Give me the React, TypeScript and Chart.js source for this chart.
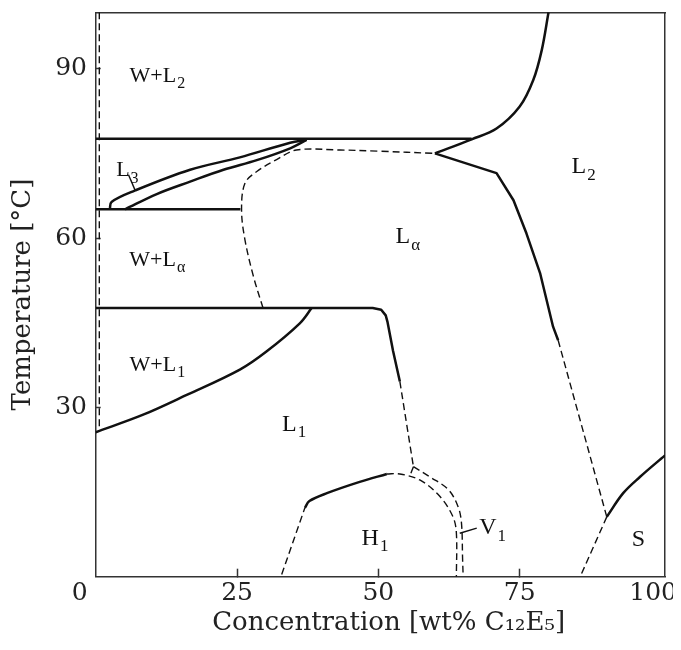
import React, { useEffect, useRef } from "react";
import { Chart, registerables } from "chart.js";

Chart.register(...registerables);

// ---- axis ranges and ticks ----
const xMin = 0;
const xMax = 100.7;
const yMin = 0;
const yMax = 100;
const xTickValues = [0, 25, 50, 75, 100];
const yTickValues = [30, 60, 90];
const xTitle = "\u00A0\u00A0Concentration [wt% C\u2081\u2082E\u2085]";
const yTitle = "Temperature [°C]";

// ---- phase boundaries: [concentration wt%, temperature °C] ----
const waterLimit = [[0.64, 100], [0.64, 25.7]];
const lineWL2 = [[0, 77.6], [66.5, 77.6]];
const lineWLa = [[0, 65.1], [25.6, 65.1]];
const lineWL1 = [[0, 47.6], [49.0, 47.6], [50.5, 47.3], [51.3, 46.3], [51.6, 45.2], [52.6, 40.0], [53.8, 34.6]];
const l1LaDashed = [[53.8, 34.6], [56.2, 19.5]];
const wL1Boundary = [[0, 25.6], [8.4, 28.7], [16.1, 32.2], [25.5, 36.7], [30.2, 39.9], [36.1, 44.9], [38.2, 47.6]];
const l3Upper = [[2.5, 65.1], [2.8, 66.4], [6.9, 68.4], [16.7, 72.1], [25.5, 74.3], [34.4, 76.9], [37.3, 77.4]];
const l3Lower = [[5.2, 65.1], [10.8, 67.8], [16.7, 70.0], [22.6, 72.1], [28.5, 73.8], [34.4, 75.9], [37.3, 77.4]];
const laLeftDashed = [[29.6, 47.6], [27.9, 53.2], [26.4, 59.7], [25.8, 65.0], [26.4, 69.7], [28.5, 71.8], [32.0, 73.9], [35.5, 75.6], [43.2, 75.6], [50.0, 75.4], [60.0, 75.0]];
const l2Upper = [[60.0, 75.0], [66.5, 77.5], [70.9, 79.4], [75.0, 83.3], [77.4, 88.0], [78.9, 93.3], [80.1, 100]];
const laL2Solid = [[60.0, 75.0], [70.9, 71.5], [73.9, 66.7], [76.2, 60.8], [78.6, 53.8], [80.9, 44.3], [81.8, 41.9]];
const laL2Dashed = [[81.8, 41.9], [90.4, 10.6]];
const sSolid = [[90.4, 10.6], [93.3, 14.8], [96.3, 17.7], [100.7, 21.5]];
const sDashed = [[90.4, 10.6], [85.7, 0]];
const h1LeftDashed = [[32.9, 0.4], [37.0, 12.2]];
const h1Solid = [[37.0, 12.2], [37.8, 13.4], [40.9, 14.8], [46.7, 16.8], [51.5, 18.2]];
const h1Dashed = [[51.5, 18.2], [53.8, 18.2], [57.4, 17.1], [60.9, 14.2], [63.2, 10.6], [63.8, 7.7], [63.8, 0]];
const v1Dashed = [[56.2, 19.5], [59.1, 17.7], [62.4, 15.4], [64.1, 12.4], [64.7, 9.5], [64.9, 3.0], [65.0, 0]];
const junctionDashed = [[56.2, 19.5], [55.5, 17.7]];
const v1Leader = [[64.4, 7.7], [67.4, 8.6]];
const l3Leader = [[5.8, 71.2], [7.0, 68.4]];

// ---- region labels: text, subscript, anchor (wt%, °C), kind ----
const labelTexts = ["W+L", "L", "W+L", "W+L", "L", "L", "L", "H", "V", "S"];
const labelSubs = ["2", "3", "\u03B1", "1", "\u03B1", "2", "1", "1", "1", ""];
const labelX = [10.9, 5.6, 10.9, 10.9, 55.2, 86.3, 35.1, 49.4, 70.2, 96.0];
const labelY = [89.0, 72.2, 56.3, 37.8, 60.5, 72.9, 27.3, 7.1, 8.9, 6.8];
const labelKind = ["mix", "mix", "mix", "mix", "phase", "phase", "phase", "phase", "phase", "phase"];

const toPts = (a: number[][]) => a.map(([x, y]) => ({ x, y }));

const labelPlugin = {
  id: "regionLabels",
  afterDatasetsDraw(chart: any) {
    const { ctx, scales } = chart;
    const xs = scales.x;
    const ys = scales.y;
    ctx.save();
    ctx.fillStyle = "#111";
    ctx.textAlign = "left";
    ctx.textBaseline = "alphabetic";
    for (let i = 0; i < labelTexts.length; i++) {
      const size = labelKind[i] === "mix" ? 22 : 24;
      const subSize = Math.round(size * 0.72);
      const mainFont = `${size}px "Liberation Serif", serif`;
      const subFont = `${subSize}px "Liberation Serif", serif`;
      ctx.font = mainFont;
      const mw = ctx.measureText(labelTexts[i]).width;
      ctx.font = subFont;
      const sw = labelSubs[i] ? ctx.measureText(labelSubs[i]).width + 1 : 0;
      const cx = xs.getPixelForValue(labelX[i]);
      const cy = ys.getPixelForValue(labelY[i]);
      const left = cx - (mw + sw) / 2;
      const base = cy + size * 0.33;
      ctx.font = mainFont;
      ctx.fillText(labelTexts[i], left, base);
      if (labelSubs[i]) {
        ctx.font = subFont;
        ctx.fillText(labelSubs[i], left + mw + 1, base + size * 0.28);
      }
    }
    ctx.restore();
  },
};

const zeroPad = (s: any) => {
  s.paddingLeft = 0;
  s.paddingRight = 0;
  s.paddingTop = 0;
  s.paddingBottom = 0;
};

export default function App() {
  const ref = useRef<HTMLCanvasElement | null>(null);

  useEffect(() => {
    if (!ref.current) return;
    const solid = { borderColor: "#111", borderWidth: 2.5, borderDash: [] as number[], tension: 0 };
    const curved = { ...solid, tension: 0.35 };
    const dashed = { borderColor: "#111", borderWidth: 1.4, borderDash: [7, 4], tension: 0 };
    const dashedCurved = { ...dashed, tension: 0.35 };
    const thin = { borderColor: "#111", borderWidth: 1.4, borderDash: [] as number[], tension: 0 };
    const curves: [number[][], any][] = [
      [waterLimit, dashed],
      [lineWL2, solid],
      [lineWLa, solid],
      [lineWL1, solid],
      [l1LaDashed, dashed],
      [wL1Boundary, curved],
      [l3Upper, curved],
      [l3Lower, curved],
      [laLeftDashed, dashedCurved],
      [l2Upper, curved],
      [laL2Solid, solid],
      [laL2Dashed, dashed],
      [sSolid, curved],
      [sDashed, dashed],
      [h1LeftDashed, dashed],
      [h1Solid, curved],
      [h1Dashed, dashedCurved],
      [v1Dashed, dashedCurved],
      [junctionDashed, dashed],
      [v1Leader, thin],
      [l3Leader, thin],
    ];
    const datasets = curves.map(([d, st]) => ({
      data: toPts(d),
      showLine: true,
      pointRadius: 0,
      fill: false,
      borderCapStyle: "butt",
      borderJoinStyle: "round",
      xAxisID: "x",
      yAxisID: "y",
      ...st,
    }));

    const axisFont = { family: '"DejaVu Serif", serif', size: 25 };
    const borderOpt = { display: true, color: "#333", width: 1.5 };

    const chart = new Chart(ref.current, {
      type: "scatter",
      data: { datasets },
      plugins: [labelPlugin],
      options: {
        animation: false,
        responsive: true,
        maintainAspectRatio: false,
        layout: { padding: { left: 0, right: 8, top: 4.3, bottom: 0 } },
        plugins: { legend: { display: false }, tooltip: { enabled: false } },
        scales: {
          x: {
            type: "linear",
            position: "bottom",
            min: xMin,
            max: xMax,
            afterBuildTicks: (s: any) => {
              s.ticks = xTickValues.map((v) => ({ value: v }));
            },
            afterFit: (s: any) => {
              s.height = 65.3;
              zeroPad(s);
            },
            ticks: {
              padding: 9.8,
              color: "#222",
              font: axisFont,
              maxRotation: 0,
              autoSkip: false,
              callback: (v: any) => (v === 0 ? "0\u00A0\u00A0\u00A0\u00A0" : v === 100 ? "100\u00A0\u00A0" : String(v)),
            },
            grid: {
              display: true,
              drawOnChartArea: false,
              drawTicks: true,
              tickLength: -8,
              tickWidth: 1.5,
              tickColor: (c: any) => (c.tick && (c.tick.value === 0 || c.tick.value === 100) ? "rgba(0,0,0,0)" : "#333"),
            },
            border: borderOpt,
            title: { display: true, text: xTitle, color: "#222", font: { family: '"DejaVu Serif", serif', size: 26 }, padding: { top: 0, bottom: 3 } },
          },
          xTop: {
            type: "linear",
            position: "top",
            min: xMin,
            max: xMax,
            afterFit: (s: any) => {
              s.height = 0;
              zeroPad(s);
            },
            ticks: { display: false },
            grid: { display: false, drawTicks: false },
            border: borderOpt,
          },
          y: {
            type: "linear",
            position: "left",
            min: yMin,
            max: yMax,
            afterBuildTicks: (s: any) => {
              s.ticks = yTickValues.map((v) => ({ value: v }));
            },
            afterFit: (s: any) => {
              s.width = 87.7;
              zeroPad(s);
            },
            ticks: { padding: 13.7, color: "#222", font: axisFont, autoSkip: false },
            grid: {
              display: true,
              drawOnChartArea: false,
              drawTicks: true,
              tickLength: -5,
              tickWidth: 1.5,
              tickColor: "#333",
            },
            border: borderOpt,
            title: { display: true, text: yTitle, color: "#222", font: { family: '"DejaVu Serif", serif', size: 26 }, padding: { top: 0, bottom: 0 } },
          },
          yRight: {
            type: "linear",
            position: "right",
            min: yMin,
            max: yMax,
            afterFit: (s: any) => {
              s.width = 0;
              zeroPad(s);
            },
            ticks: { display: false },
            grid: { display: false, drawTicks: false },
            border: borderOpt,
          },
        },
      } as any,
    });
    return () => chart.destroy();
  }, []);

  return (
    <div style={{ position: "relative", width: "665px", height: "634px", background: "#fff" }}>
      <canvas ref={ref} />
    </div>
  );
}
